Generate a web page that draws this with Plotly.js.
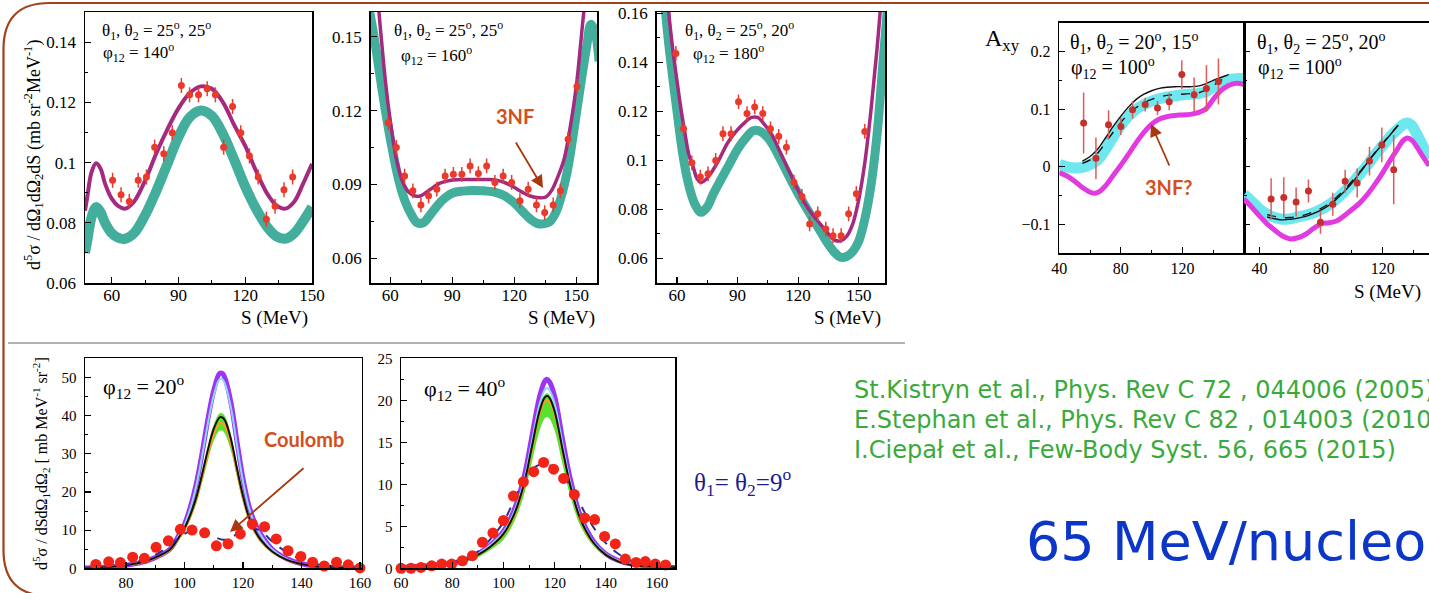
<!DOCTYPE html>
<html><head><meta charset="utf-8">
<script src="https://cdn.plot.ly/plotly-3.0.1.min.js"></script>
<style>html,body{margin:0;padding:0;background:#fff;}#chart{width:1429px;height:593px;}</style>
</head><body><div id="chart"></div>
<script>
// ---------------- DATA ----------------
// Panel 1: theta 25,25 phi 140
const p1_S   = [60.4,64.2,67.9,71.9,75.6,79.3,83.4,87.2,91.3,95,99,102.9,106.6,110.3,114.3,118,121.9,125.8,129.5,133.4,137.4,141.3];
const p1_dat = [0.0941,0.0893,0.0871,0.0941,0.0952,0.1051,0.1029,0.1099,0.1256,0.1225,0.1225,0.1245,0.1225,0.1051,0.1186,0.1099,0.1022,0.0952,0.0812,0.0855,0.091,0.0952];
const p1_err = [0.0025,0.0025,0.0025,0.0025,0.0025,0.0025,0.0025,0.0025,0.0025,0.0025,0.0025,0.0025,0.0025,0.0025,0.0025,0.0025,0.0025,0.0025,0.0025,0.0025,0.0025,0.0025];
const p1_thS = [48,49,51,53,55,57,60,63,66,70,75,80,85,90,95,100,105,110,115,120,125,130,134,138,142,146,150];
const p1_3nf = [0.084,0.0885,0.097,0.0998,0.098,0.093,0.088,0.0855,0.0847,0.087,0.094,0.103,0.111,0.118,0.123,0.1253,0.1245,0.12,0.1125,0.1055,0.097,0.0895,0.0858,0.0847,0.087,0.093,0.0996];
const p1_2nf = [0.070,0.074,0.082,0.0852,0.0835,0.080,0.0765,0.075,0.0747,0.0765,0.0825,0.0905,0.0995,0.1085,0.115,0.1173,0.1155,0.1095,0.101,0.092,0.0845,0.0785,0.0755,0.0747,0.0765,0.0805,0.0852];

// Panel 2: theta 25,25 phi 160
const p2_S   = [58.9,62.9,66.9,70.9,74.8,78.5,82.5,86.5,90.5,94.6,98.6,102.6,106.6,110.6,114.6,118.7,122.7,126.7,130.7,134.7,138.8,142.3,146,150.3];
const p2_dat = [0.115,0.105,0.0934,0.0874,0.0817,0.0854,0.0881,0.0934,0.0941,0.0941,0.0975,0.0944,0.0975,0.0908,0.0934,0.0908,0.0834,0.0881,0.0817,0.0786,0.0817,0.0874,0.1083,0.1298];
const p2_err = [0.003,0.003,0.003,0.003,0.003,0.003,0.003,0.003,0.003,0.003,0.003,0.003,0.003,0.003,0.003,0.003,0.003,0.003,0.003,0.003,0.003,0.003,0.003,0.003];
const p2_S3  = [53,55,57,59,61,63,66,69,72,75,79,84,90,96,102,108,114,119,124,128,132,135,138,141,144,147,150,153,156];
const p2_3nf = [0.175,0.155,0.137,0.122,0.11,0.1,0.091,0.0868,0.0853,0.0855,0.0878,0.0905,0.0918,0.092,0.092,0.092,0.0912,0.0893,0.0868,0.0852,0.0846,0.0848,0.0875,0.093,0.1,0.113,0.13,0.155,0.18];
const p2_S2  = [50,52,55,58,61,64,67,70,73,76,80,85,90,95,100,105,110,115,120,124,128,131,134,137,140,143,146,149,152,155,157,159,161];
const p2_2nf = [0.16,0.1507,0.134,0.118,0.104,0.092,0.0835,0.078,0.0745,0.0745,0.0785,0.0835,0.0865,0.0873,0.0875,0.0874,0.087,0.0855,0.0825,0.079,0.0758,0.0742,0.074,0.0748,0.0785,0.086,0.097,0.113,0.13,0.146,0.155,0.152,0.14];

// Panel 3: theta 25,20 phi 180
const p3_S   = [59.5,63.3,67.4,71.6,75.4,79.2,82.8,86.8,90.5,94.7,98.5,102.5,106.3,110.4,114.2,117.9,121.9,125.7,129.7,133.7,137.3,141.3,145,148.8,153];
const p3_dat = [0.1436,0.1129,0.099,0.0932,0.0945,0.1,0.1109,0.1109,0.1239,0.1191,0.1218,0.1191,0.1129,0.1098,0.1054,0.0911,0.0853,0.0741,0.0782,0.072,0.0693,0.0693,0.0782,0.0864,0.1118];
const p3_err = [0.003,0.003,0.003,0.003,0.003,0.003,0.003,0.003,0.003,0.003,0.003,0.003,0.003,0.003,0.003,0.003,0.003,0.003,0.003,0.003,0.003,0.003,0.003,0.003,0.003];
const p3_S3  = [54,56,58,60,62,64,66,68,70,72,74,77,81,85,89,93,97,100,103,107,111,115,119,123,127,131,135,138,141,144,147,150,153,156,159,162];
const p3_3nf = [0.185,0.16,0.145,0.1327,0.121,0.111,0.102,0.0975,0.0925,0.091,0.092,0.095,0.1005,0.107,0.1115,0.115,0.1175,0.1175,0.115,0.1105,0.1035,0.0965,0.0895,0.083,0.078,0.074,0.07,0.0675,0.0672,0.069,0.074,0.084,0.099,0.12,0.145,0.175];
const p3_S2  = [53,55,57,60,63,66,69,72,75,78,82,86,90,94,98,102,106,110,114,118,122,126,130,134,138,141,144,147,150,153,156,159,162,165];
const p3_2nf = [0.175,0.155,0.14,0.1204,0.102,0.0895,0.082,0.0788,0.081,0.0863,0.0925,0.0985,0.1045,0.109,0.1122,0.1115,0.1082,0.1025,0.096,0.0895,0.0835,0.078,0.0725,0.067,0.0625,0.0605,0.0608,0.0628,0.067,0.076,0.0895,0.11,0.14,0.17];

// Panel 4: Axy theta 20,15 phi 100
const a1_S   = [55.8,63.8,72,80,87.6,95.8,103.8,111.4,119.6,127.6,135.6,143.4];
const a1_dat = [0.076,0.015,0.073,0.07,0.099,0.108,0.102,0.113,0.16,0.125,0.136,0.148];
const a1_err = [0.053,0.036,0.025,0.015,0.015,0.012,0.012,0.015,0.025,0.03,0.04,0.04];
const a1_Sb  = [40,45,50,55,60,65,70,75,80,85,90,95,100,105,110,115,120,125,130,135,140,145,150,155,160];
const a1_cyan= [0.004,0.0,-0.002,-0.001,0.004,0.012,0.03,0.052,0.072,0.088,0.1,0.108,0.114,0.118,0.121,0.123,0.125,0.126,0.127,0.13,0.138,0.146,0.151,0.153,0.153];
const a1_Sm  = [40,45,50,55,60,63,66,70,75,80,85,90,95,100,105,110,115,120,125,130,135,140,145,150,155,160];
const a1_mag = [-0.01,-0.016,-0.025,-0.036,-0.044,-0.046,-0.043,-0.033,-0.015,0.003,0.022,0.042,0.06,0.074,0.083,0.087,0.089,0.09,0.091,0.094,0.1,0.117,0.132,0.141,0.145,0.143];
const a1_Sl  = [55,60,65,70,75,80,85,90,95,100,105,110,115,120,125,130,135,140,145,150];
const a1_sol = [0.01,0.018,0.031,0.05,0.07,0.088,0.104,0.117,0.126,0.132,0.136,0.138,0.139,0.139,0.139,0.14,0.144,0.15,0.155,0.16];
const a1_dsh = [0.006,0.012,0.024,0.042,0.06,0.077,0.092,0.103,0.111,0.117,0.121,0.124,0.125,0.126,0.127,0.128,0.133,0.141,0.15,0.158];

// Panel 5: Axy theta 25,20 phi 100
const a2_S   = [47.6,55.8,63.8,71.8,79.6,87.6,95.6,103.4,111.4,119.4,127.1];
const a2_dat = [-0.056,-0.053,-0.061,-0.042,-0.096,-0.065,-0.025,-0.028,0.01,0.038,-0.005];
const a2_err = [0.036,0.035,0.025,0.02,0.02,0.02,0.02,0.025,0.025,0.03,0.06];
const a2_Sb  = [30,35,40,45,50,55,60,65,70,75,80,85,90,95,100,105,110,115,120,125,130,133,136,139,142,146,150];
const a2_cyan= [-0.048,-0.06,-0.073,-0.082,-0.088,-0.091,-0.09,-0.087,-0.084,-0.08,-0.074,-0.066,-0.056,-0.043,-0.029,-0.013,0.003,0.021,0.037,0.053,0.066,0.073,0.076,0.071,0.057,0.036,0.014];
const a2_mag = [-0.056,-0.07,-0.085,-0.099,-0.11,-0.12,-0.125,-0.123,-0.117,-0.107,-0.099,-0.097,-0.094,-0.085,-0.074,-0.063,-0.048,-0.03,-0.01,0.012,0.033,0.045,0.05,0.046,0.035,0.018,0.002];
const a2_Sl  = [45,50,55,60,65,70,75,80,85,90,95,100,105,110,115,120,125,130];
const a2_sol = [-0.087,-0.09,-0.092,-0.091,-0.089,-0.086,-0.081,-0.075,-0.067,-0.056,-0.043,-0.028,-0.011,0.007,0.024,0.04,0.056,0.072];
const a2_dsh = [-0.083,-0.086,-0.088,-0.088,-0.086,-0.083,-0.078,-0.072,-0.064,-0.053,-0.04,-0.025,-0.009,0.008,0.025,0.041,0.057,0.072];
const axyTicks = [40, 80, 120];

// Panel 6: phi 20 (theta 9,9)
const b1_S   = [65.7,69.7,74.1,78.1,82.3,86.3,90.3,94.5,98.6,102.6,106.9,110.9,114.9,119.1,123.2,127.4,131.4,135.4,139.8,143.8,147.8,152,156,160];
const b1_dat = [0,1.0,1.7,1.5,2.9,2.6,5.5,7.2,10.2,10.0,9.3,5.9,6.4,9.0,11.6,10.9,7.7,4.6,3.1,1.6,0.6,1.6,0.9,0.1];
const b1_Sc  = [66,70,75,80,85,90,95,98,100,102,104,106,108,110,112,113,114,116,118,120,122,124,126,130,135,140,145,150,161];
const b1_pur = [0.1,0.2,0.4,0.8,1.5,2.8,5,8.5,11.5,16,22,30,39,46.5,51,51,49.5,43,33,23.5,16.5,12,9,5,2.5,1.2,0.6,0.3,0.1];
const b1_lbl = [0.1,0.2,0.4,0.8,1.5,2.8,5,8.4,11.3,15.6,21.4,29.2,37.9,45.2,49.5,49.5,48,41.7,32,22.8,16,11.7,8.8,4.9,2.4,1.2,0.6,0.3,0.1];
const b1_blk = [0.1,0.2,0.4,0.8,1.5,2.8,4.9,8,10.5,14,18.5,24.5,31,36.5,39.5,39.5,38.5,33.5,26,19,13.5,10,7.5,4.4,2.2,1.1,0.5,0.3,0.1];
const b1_glo = [0.1,0.2,0.3,0.7,1.3,2.5,4.4,7.2,9.5,12.7,16.8,22.3,28.2,33.3,36,36,35,30.5,23.7,17.3,12.3,9.1,6.8,4,2,1,0.5,0.2,0.1];
const b1_ghi = [0.1,0.2,0.4,0.8,1.5,2.8,5,8.2,10.8,14.4,19,25.1,31.8,37.4,40.5,40.5,39.5,34.3,26.7,19.5,13.9,10.3,7.7,4.5,2.3,1.1,0.6,0.3,0.1];
const b1_org = [0.1,0.2,0.4,0.8,1.4,2.7,4.7,7.7,10.1,13.5,17.8,23.6,29.8,35.1,38,38,37,32.2,25,18.3,13,9.6,7.2,4.2,2.1,1.1,0.5,0.3,0.1];
const b1_Sd  = [66,70,75,80,85,90,95,100,104,108,111,113,115,118,121,124,127,130,135,140,145,150,155,161];
const b1_cou = [0.1,0.3,0.5,1.0,2.0,3.5,6.0,9.0,10.3,9.3,8.0,7.5,7.6,9.0,10.3,10.4,9.2,7.0,4.2,2.3,1.1,0.5,0.2,0.1];

// Panel 7: phi 40
const b2_S   = [60,63.9,67.8,72,75.9,79.8,84,87.9,91.8,95.9,100,103.9,107.8,111.8,115.7,119.6,123.5,127.7,131.7,135.6,139.5,143.7,147.6,151.8,155.4,159.3,163.3,167.2];
const b2_dat = [0,0,0.1,0.3,0.5,0.5,0.9,1.5,3.1,4.2,5.7,8.6,10.3,11.5,12.6,11.8,10.7,8.8,6.0,5.8,3.8,2.9,1.1,0.7,0.8,0.5,0.4,0];
const b2_Sc  = [60,70,80,85,90,95,100,104,108,111,114,116,117,118,120,123,126,130,135,140,145,150,160,168];
const b2_pur = [0.1,0.3,0.6,1.0,1.7,2.8,4.4,6.8,10.8,15.5,20.3,22.2,22.5,22.2,20.5,15.5,10.8,6.3,3.3,1.7,0.9,0.5,0.2,0.1];
const b2_lbl = [0.1,0.3,0.6,1,1.7,2.8,4.3,6.6,10.4,14.9,19.4,21.2,21.5,21.2,19.6,14.9,10.4,6.1,3.2,1.7,0.9,0.5,0.2,0.1];
const b2_blk = [0.1,0.3,0.6,1.0,1.6,2.6,4.1,6.3,10,14.3,18.6,20.3,20.5,20.3,18.7,14.3,10,5.9,3.1,1.6,0.8,0.4,0.2,0.1];
const b2_glo = [0.1,0.2,0.5,0.8,1.3,2.2,3.4,5.4,8.7,12.5,16.3,17.8,18,17.8,16.4,12.5,8.7,5.1,2.7,1.4,0.7,0.4,0.2,0.1];
const b2_ghi = [0.1,0.3,0.6,1.0,1.6,2.7,4.2,6.4,10.2,14.6,18.9,20.6,20.8,20.6,19,14.6,10.2,6,3.1,1.6,0.8,0.4,0.2,0.1];
const b2_org = [0.1,0.3,0.6,1,1.6,2.6,4,6.1,9.8,14,18.2,19.8,20,19.8,18.3,14,9.8,5.8,3,1.6,0.8,0.4,0.2,0.1];
const b2_Sd  = [60,70,80,85,90,95,100,104,108,112,116,120,124,128,132,136,140,145,150,160,168];
const b2_cou = [0.1,0.3,0.7,1.1,2,3.5,5.5,8,10.5,12,12.4,12,10.8,8.8,6.5,4.5,3,1.7,0.9,0.3,0.1];

const refLines = [
  "St.Kistryn et al., Phys. Rev C 72 , 044006 (2005)",
  "E.Stephan et al., Phys. Rev C 82 , 014003 (2010)",
  "I.Ciepał et al., Few-Body Syst. 56, 665 (2015)"
];

// ---------------- HELPERS ----------------
const W = 1429, H = 593;
const PX = v => v / W, PY = v => 1 - v / H;
const SERIF = 'Liberation Serif, Times New Roman, serif';
const xa = n => n === 1 ? 'x' : 'x' + n;
const ya = n => n === 1 ? 'y' : 'y' + n;

function curve(x, y, n, color, width, dash, opacity) {
  return {x: x, y: y, xaxis: xa(n), yaxis: ya(n), type: 'scatter', mode: 'lines',
    line: {color: color, width: width, shape: 'spline', dash: dash || 'solid'},
    opacity: opacity == null ? 1 : opacity, hoverinfo: 'skip'};
}
function band(x, lo, hi, n, color) {
  return [
    {x: x, y: lo, xaxis: xa(n), yaxis: ya(n), type: 'scatter', mode: 'lines', line: {width: 0, shape: 'spline'}, hoverinfo: 'skip'},
    {x: x, y: hi, xaxis: xa(n), yaxis: ya(n), type: 'scatter', mode: 'lines', line: {width: 0.5, color: color, shape: 'spline'}, fill: 'tonexty', fillcolor: color, hoverinfo: 'skip'}
  ];
}
function pts(x, y, err, n, color, size, ecolor, clip) {
  const t = {x: x, y: y, xaxis: xa(n), yaxis: ya(n), type: 'scatter', mode: 'markers',
    marker: {color: color, size: size}, cliponaxis: clip, hoverinfo: 'skip'};
  if (err) t.error_y = {type: 'data', array: err, visible: true, color: ecolor || color, thickness: 1.5, width: 0};
  return t;
}

const traces = [];
// Panel 1
traces.push(curve(p1_thS, p1_2nf, 1, '#44ae9d', 10));
traces.push(curve(p1_thS, p1_3nf, 1, '#a42a80', 4));
traces.push(pts(p1_S, p1_dat, p1_err, 1, '#ea3a2c', 7, '#ea3a2c', true));
// Panel 2
traces.push(curve(p2_S2, p2_2nf, 2, '#44ae9d', 9));
traces.push(curve(p2_S3, p2_3nf, 2, '#a42a80', 3.5));
traces.push(pts(p2_S, p2_dat, p2_err, 2, '#ea3a2c', 7, '#ea3a2c', true));
// Panel 3
traces.push(curve(p3_S2, p3_2nf, 3, '#44ae9d', 9));
traces.push(curve(p3_S3, p3_3nf, 3, '#a42a80', 3.5));
traces.push(pts(p3_S, p3_dat, p3_err, 3, '#ea3a2c', 7, '#ea3a2c', true));
// Panel 4
traces.push(curve(a1_Sb, a1_cyan, 4, '#5ee6ec', 11, 'solid', 0.9));
traces.push(curve(a1_Sm, a1_mag, 4, '#e03ae0', 5));
traces.push(curve(a1_Sl, a1_sol, 4, '#111111', 1.4));
traces.push(curve(a1_Sl, a1_dsh, 4, '#111111', 1.4, 'dash'));
traces.push(pts(a1_S, a1_dat, a1_err, 4, '#c4302c', 7, '#e05a5a', true));
// Panel 5
traces.push(curve(a2_Sb, a2_cyan, 5, '#5ee6ec', 11, 'solid', 0.9));
traces.push(curve(a2_Sb, a2_mag, 5, '#e03ae0', 5));
traces.push(curve(a2_Sl, a2_sol, 5, '#111111', 1.4));
traces.push(curve(a2_Sl, a2_dsh, 5, '#111111', 1.4, 'dash'));
traces.push(pts(a2_S, a2_dat, a2_err, 5, '#c4302c', 7, '#e05a5a', true));
// Panel 6
traces.push(curve(b1_Sc, b1_pur, 6, '#9b35f2', 5));
traces.push(curve(b1_Sc, b1_lbl, 6, '#8fd6ff', 2));
band(b1_Sc, b1_glo, b1_ghi, 6, '#58e22c').forEach(t => traces.push(t));
traces.push(curve(b1_Sc, b1_org, 6, '#ff9a28', 2));
traces.push(curve(b1_Sc, b1_blk, 6, '#111111', 2));
traces.push(curve(b1_Sd, b1_cou, 6, '#2e2e8c', 2, 'dash'));
traces.push(pts(b1_S, b1_dat, null, 6, '#f22418', 11, null, false));
// Panel 7
traces.push(curve(b2_Sc, b2_pur, 7, '#9b35f2', 5));
traces.push(curve(b2_Sc, b2_lbl, 7, '#8fd6ff', 2));
band(b2_Sc, b2_glo, b2_ghi, 7, '#58e22c').forEach(t => traces.push(t));
traces.push(curve(b2_Sc, b2_org, 7, '#ff9a28', 2));
traces.push(curve(b2_Sc, b2_blk, 7, '#111111', 2));
traces.push(curve(b2_Sd, b2_cou, 7, '#2e2e8c', 2, 'dash'));
traces.push(pts(b2_S, b2_dat, null, 7, '#f22418', 11, null, false));

function axis(dom, range, dtick, minor, fsize, anchor, standoff, showlabels) {
  return {domain: dom, range: range, dtick: dtick, tick0: 0, anchor: anchor,
    showline: true, mirror: true, linecolor: '#000', linewidth: 1.5,
    ticks: 'inside', ticklen: 6, tickwidth: 1.2, tickcolor: '#000',
    minor: {ticks: 'inside', ticklen: 3, tickwidth: 1, tickcolor: '#000', dtick: minor},
    showgrid: false, zeroline: false, fixedrange: true,
    showticklabels: showlabels !== false, ticklabelstandoff: standoff,
    tickfont: {family: SERIF, size: fsize, color: '#000'}};
}

const topY = [PY(283), PY(12)];
const axyY = [PY(253.3), PY(22.7)];
const botY = [PY(568.3), PY(358.3)];

const layout = {
  width: W, height: H, margin: {l: 0, r: 0, t: 0, b: 0},
  paper_bgcolor: '#fff', plot_bgcolor: '#fff', showlegend: false,
  xaxis:  axis([PX(85), PX(312)], [48, 150], 30, 15, 17, 'y', -4),
  yaxis:  axis(topY, [0.06, 0.15], 0.02, 0.01, 17, 'x', 4),
  xaxis2: axis([PX(370.7), PX(597)], [50.5, 160], 30, 15, 17, 'y2', -4),
  yaxis2: axis(topY, [0.05, 0.16], 0.03, 0.015, 17, 'x2', 4),
  xaxis3: axis([PX(656.7), PX(885)], [50, 163], 30, 15, 17, 'y3', -4),
  yaxis3: axis(topY, [0.05, 0.1605], 0.02, 0.01, 17, 'x3', 4),
  xaxis4: axis([PX(1059.3), PX(1244)], [40, 160], 40, 20, 16, 'y4', 0),
  yaxis4: axis(axyY, [-0.15, 0.25], 0.1, 0.05, 16, 'x4', 4),
  xaxis5: axis([PX(1244), 1], [30, 150], 40, 20, 16, 'y5', 0),
  yaxis5: axis(axyY, [-0.15, 0.25], 0.1, 0.05, 16, 'x5', 4, false),
  xaxis6: axis([PX(85), PX(361.7)], [66, 160.6], 20, 10, 15, 'y6', 0),
  yaxis6: axis(botY, [0, 55], 10, 5, 15, 'x6', 4),
  xaxis7: axis([PX(401), PX(675)], [60, 167], 20, 10, 15, 'y7', 0),
  yaxis7: axis(botY, [0, 25], 5, 2.5, 15, 'x7', 4),
  shapes: [], annotations: []
};
layout.xaxis4.tickmode = 'array'; layout.xaxis4.tickvals = axyTicks;
layout.xaxis5.tickmode = 'array'; layout.xaxis5.tickvals = axyTicks;

// Frame (rounded rectangle) and separator
(function () {
  const L = 3.5, T = 3, R = 1480, B = 596, r = 46;
  const p = (x, y) => PX(x).toFixed(5) + ',' + PY(y).toFixed(5);
  const path = 'M' + p(L, B - r) + ' L' + p(L, T + r) + ' Q' + p(L, T) + ' ' + p(L + r, T) +
    ' L' + p(R - r, T) + ' Q' + p(R, T) + ' ' + p(R, T + r) + ' L' + p(R, B - r) +
    ' Q' + p(R, B) + ' ' + p(R - r, B) + ' L' + p(L + r, B) + ' Q' + p(L, B) + ' ' + p(L, B - r) + ' Z';
  layout.shapes.push({type: 'path', xref: 'paper', yref: 'paper', path: path, line: {color: '#a2421c', width: 2.2}, layer: 'above'});
  layout.shapes.push({type: 'line', xref: 'paper', yref: 'paper', x0: PX(8), x1: PX(905), y0: PY(343), y1: PY(343), line: {color: '#9a9a9a', width: 1.5}});
})();

function txt(text, x, y, size, opts) {
  opts = opts || {};
  layout.annotations.push(Object.assign({
    text: text, xref: 'paper', yref: 'paper', x: PX(x), y: PY(y), showarrow: false,
    xanchor: 'left', yanchor: 'middle',
    font: {family: SERIF, size: size, color: '#000'}
  }, opts));
}
function arrow(hx, hy, tx, ty) {
  layout.annotations.push({text: '', xref: 'paper', yref: 'paper', x: PX(hx), y: PY(hy),
    ax: tx - hx, ay: ty - hy, showarrow: true, arrowhead: 2, arrowsize: 1.4, arrowwidth: 1.8,
    arrowcolor: '#a8380f', standoff: 0});
}

// top panel labels
txt('θ<sub>1</sub>, θ<sub>2</sub> = 25<sup>o</sup>, 25<sup>o</sup>', 100, 31, 17);
txt('φ<sub>12</sub> = 140<sup>o</sup>', 101, 53, 17);
txt('θ<sub>1</sub>, θ<sub>2</sub> = 25<sup>o</sup>, 25<sup>o</sup>', 392, 31, 17);
txt('φ<sub>12</sub> = 160<sup>o</sup>', 399, 55, 17);
txt('θ<sub>1</sub>, θ<sub>2</sub> = 25<sup>o</sup>, 20<sup>o</sup>', 683, 30, 17);
txt('φ<sub>12</sub> = 180<sup>o</sup>', 691, 54, 17);
txt('S (MeV)', 274, 318, 19, {xanchor: 'center'});
txt('S (MeV)', 561, 318, 19, {xanchor: 'center'});
txt('S (MeV)', 847, 318, 19, {xanchor: 'center'});
txt('d<sup>5</sup>σ / dΩ<sub>1</sub>dΩ<sub>2</sub>dS (mb sr<sup>-2</sup>MeV<sup>-1</sup>)', 33, 155, 18, {xanchor: 'center', textangle: -90});

// Axy labels
txt('θ<sub>1</sub>, θ<sub>2</sub> = 20<sup>o</sup>, 15<sup>o</sup>', 1068, 43, 20);
txt('φ<sub>12</sub> = 100<sup>o</sup>', 1069, 68, 20);
txt('θ<sub>1</sub>, θ<sub>2</sub> = 25<sup>o</sup>, 20<sup>o</sup>', 1255, 43, 20);
txt('φ<sub>12</sub> = 100<sup>o</sup>', 1256, 68, 20);
txt('A<sub>xy</sub>', 983, 40, 24);
txt('S (MeV)', 1387, 292, 19, {xanchor: 'center'});

// bottom labels
txt('φ<sub>12</sub> = 20<sup>o</sup>', 101, 386, 22);
txt('φ<sub>12</sub> = 40<sup>o</sup>', 422, 388, 22);
txt('d<sup>5</sup>σ / dSdΩ<sub>1</sub>dΩ<sub>2</sub> [ mb MeV<sup>-1</sup> sr<sup>-2</sup>]', 41, 464, 16, {xanchor: 'center', textangle: -90});
txt('θ<sub>1</sub>= θ<sub>2</sub>=9<sup>o</sup>', 692, 482, 25, {font: {family: SERIF, size: 25, color: '#1c1c8e'}});

// call-outs
const CALL = {family: 'Lato, Open Sans, sans-serif', size: 20, color: '#d2501e'};
txt('<b>3NF</b>', 515, 116, 20, {xanchor: 'center', font: CALL});
arrow(543, 188, 515, 141);
txt('<b>3NF?</b>', 1169, 187, 20, {xanchor: 'center', font: CALL});
arrow(1151, 124, 1170, 167);
txt('<b>Coulomb</b>', 304, 439, 20, {xanchor: 'center', font: CALL});
arrow(230, 532, 305, 467);

// references
refLines.forEach((s, i) => txt(s, 852, 390 + 30 * i, 24, {font: {family: 'DejaVu Sans, Verdana, sans-serif', size: 24, color: '#3aaa3c'}}));
txt('65 MeV/nucleon', 1024, 541, 54, {font: {family: 'DejaVu Sans, Verdana, sans-serif', size: 54, color: '#0b36c8'}});

Plotly.newPlot('chart', traces, layout, {staticPlot: true, displayModeBar: false});
</script></body></html>
